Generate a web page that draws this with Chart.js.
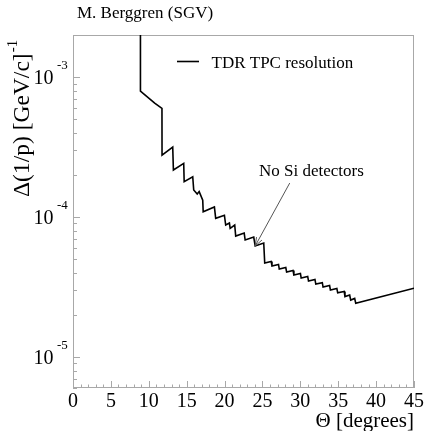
<!DOCTYPE html>
<html>
<head>
<meta charset="utf-8">
<script src="https://cdn.jsdelivr.net/npm/chart.js@4"></script>
<style>
  html, body { margin: 0; padding: 0; background: #fff; }
  canvas { display: block; }
</style>
</head>
<body>
<canvas id="resChart" width="425" height="431"></canvas>
<script>
// polar angle [degrees] and momentum resolution [1/(GeV/c)]
const theta = [8.9, 8.9, 10.39, 10.78, 11.74, 11.75, 13.16, 13.25, 14.61, 14.67,
  15.80, 15.93, 16.39, 16.65, 17.12, 17.18, 18.66, 18.83, 19.98, 20.15,
  20.64, 20.74, 21.34, 21.47, 22.59, 22.72, 23.85, 24.04, 25.17, 25.30,
  26.15, 26.26, 27.12, 27.22, 28.08, 28.19, 29.04, 29.15, 30.01, 30.11,
  30.97, 31.08, 31.93, 32.04, 32.90, 33.00, 33.86, 33.97, 34.82, 34.93,
  35.79, 35.89, 36.51, 36.65, 37.17, 37.31, 45];
const resolution = [3.0e-3, 7.94e-4, 6.80e-4, 6.52e-4, 5.98e-4, 2.77e-4, 3.16e-4, 2.17e-4, 2.42e-4, 1.79e-4,
  1.94e-4, 1.56e-4, 1.46e-4, 1.52e-4, 1.32e-4, 1.09e-4, 1.18e-4, 9.79e-5, 1.03e-4, 8.77e-5,
  9.06e-5, 8.31e-5, 8.77e-5, 7.31e-5, 7.68e-5, 6.85e-5, 7.19e-5, 6.21e-5, 6.52e-5, 4.69e-5,
  4.81e-5, 4.47e-5, 4.58e-5, 4.25e-5, 4.36e-5, 4.05e-5, 4.15e-5, 3.85e-5, 3.95e-5, 3.67e-5,
  3.76e-5, 3.49e-5, 3.58e-5, 3.32e-5, 3.40e-5, 3.16e-5, 3.24e-5, 3.01e-5, 3.09e-5, 2.87e-5,
  2.94e-5, 2.70e-5, 2.77e-5, 2.55e-5, 2.62e-5, 2.42e-5, 3.10e-5];

const xTickLabels = [0, 5, 10, 15, 20, 25, 30, 35, 40, 45];
const yDecades = [1e-5, 1e-4, 1e-3];
const yExponents = ['-5', '-4', '-3'];

const seriesLabel = 'TDR TPC resolution';
const noteText = 'No Si detectors';
const noteTail = { x: 28.6, y: 1.75e-4 };
const noteTip = { x: 24.04, y: 6.21e-5 };
const noteTextAt = { x: 31.46, y: 1.96e-4 };

const serif = '"Liberation Serif", "DejaVu Serif", serif';

const rootStyle = {
  id: 'rootStyle',
  beforeDatasetsDraw(chart) {
    const { ctx, chartArea: a, scales: { x, y } } = chart;
    ctx.save();
    ctx.strokeStyle = '#a8a8a8';
    ctx.lineWidth = 1;
    ctx.strokeRect(a.left + 0.5, a.top + 0.5, a.right - a.left - 1, a.bottom - a.top - 1);
    // x ticks, pointing up into the frame
    ctx.beginPath();
    for (let v = 0; v <= 45; v++) {
      const px = Math.round(x.getPixelForValue(v)) + 0.5;
      const len = v % 5 === 0 ? 7 : 3.5;
      ctx.moveTo(px, a.bottom);
      ctx.lineTo(px, a.bottom - len);
    }
    // y ticks, log minors at 2..9
    for (let d = 1e-6; d < 1e-2; d *= 10) {
      for (let m = 1; m <= 9; m++) {
        const v = m * d;
        if (v < y.min * 0.999 || v > y.max * 1.001) continue;
        const py = Math.round(y.getPixelForValue(v)) + 0.5;
        ctx.moveTo(a.left, py);
        ctx.lineTo(a.left + (m === 1 ? 7 : 4), py);
      }
    }
    ctx.stroke();
    ctx.restore();
  },
  afterDraw(chart) {
    const { ctx, chartArea: a, scales: { x, y } } = chart;
    ctx.save();
    ctx.fillStyle = '#000';

    // x tick labels
    ctx.font = '20px ' + serif;
    ctx.textAlign = 'center';
    ctx.textBaseline = 'alphabetic';
    xTickLabels.forEach(v => ctx.fillText(String(v), x.getPixelForValue(v), a.bottom + 19));

    // y tick labels 10^n
    yDecades.forEach((v, i) => {
      const py = y.getPixelForValue(v);
      ctx.font = '20px ' + serif;
      ctx.textAlign = 'right';
      ctx.fillText('10', 53.5, py + 7);
      ctx.font = '13px ' + serif;
      ctx.textAlign = 'left';
      ctx.fillText(yExponents[i], 57, py - 8);
    });

    // axis titles
    ctx.font = '21px ' + serif;
    ctx.textAlign = 'right';
    ctx.fillText('\u0398 [degrees]', a.right, 427);

    ctx.save();
    ctx.translate(29, 197);
    ctx.rotate(-Math.PI / 2);
    ctx.textAlign = 'left';
    ctx.font = '23.5px ' + serif;
    const main = '\u0394(1/p) [GeV/c]';
    ctx.fillText(main, 0, 0);
    const w = ctx.measureText(main).width;
    ctx.font = '15px ' + serif;
    ctx.fillText('-1', w + 1, -12);
    ctx.restore();

    // top label
    ctx.font = '17px ' + serif;
    ctx.textAlign = 'left';
    ctx.fillText('M. Berggren (SGV)', 77, 18);

    // legend
    ctx.strokeStyle = '#000';
    ctx.lineWidth = 1.6;
    ctx.beginPath();
    ctx.moveTo(a.left + 104, 61.5);
    ctx.lineTo(a.left + 126, 61.5);
    ctx.stroke();
    ctx.fillText(seriesLabel, a.left + 138.5, 68);

    // annotation with arrow
    ctx.textAlign = 'center';
    ctx.fillText(noteText, x.getPixelForValue(noteTextAt.x), y.getPixelForValue(noteTextAt.y));
    const tx = x.getPixelForValue(noteTail.x), ty = y.getPixelForValue(noteTail.y);
    const hx = x.getPixelForValue(noteTip.x), hy = y.getPixelForValue(noteTip.y);
    const ang = Math.atan2(hy - ty, hx - tx);
    ctx.strokeStyle = '#555';
    ctx.lineWidth = 1;
    ctx.beginPath();
    ctx.moveTo(tx, ty);
    ctx.lineTo(hx, hy);
    [-0.35, 0.35].forEach(da => {
      ctx.moveTo(hx, hy);
      ctx.lineTo(hx - 9 * Math.cos(ang + da), hy - 9 * Math.sin(ang + da));
    });
    ctx.stroke();
    ctx.restore();
  }
};

new Chart(document.getElementById('resChart'), {
  type: 'line',
  data: {
    datasets: [{
      label: seriesLabel,
      data: theta.map((t, i) => ({ x: t, y: resolution[i] })),
      borderColor: '#000',
      borderWidth: 1.6,
      pointRadius: 0,
      tension: 0,
      fill: false
    }]
  },
  options: {
    responsive: false,
    animation: false,
    devicePixelRatio: 1,
    layout: { padding: { top: 35, right: 11, left: 0, bottom: 0 } },
    plugins: { legend: { display: false }, tooltip: { enabled: false } },
    scales: {
      x: {
        type: 'linear', min: 0, max: 45,
        grid: { display: false }, border: { display: false }, ticks: { display: false },
        afterFit: s => { s.height = 43; }
      },
      y: {
        type: 'logarithmic', min: 6e-6, max: 2e-3,
        grid: { display: false }, border: { display: false }, ticks: { display: false },
        afterFit: s => { s.width = 73; }
      }
    }
  },
  plugins: [rootStyle]
});
</script>
</body>
</html>
